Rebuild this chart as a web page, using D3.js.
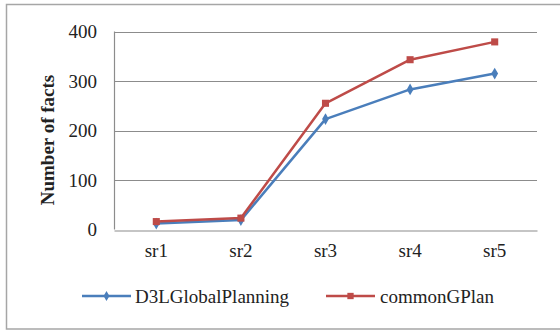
<!DOCTYPE html>
<html><head><meta charset="utf-8">
<script src="https://cdn.jsdelivr.net/npm/d3@7"></script>
<style>body{margin:0;background:#fff}svg{display:block}
svg text{font-family:"Liberation Serif","Times New Roman",Times,"DejaVu Serif",serif;}</style>
</head><body>
<svg id="c" width="560" height="330"></svg>
<script>
const categories = ["sr1","sr2","sr3","sr4","sr5"];
const seriesNames = ["D3LGlobalPlanning","commonGPlan"];
const d3lValues = [12, 19, 223, 283, 315];
const commonValues = [16, 23, 255, 343, 379];
const yTicks = [0,100,200,300,400];

const svg = d3.select("#c");
const m = {l:114, r:537, t:31.5, b:229.5};

svg.append("rect").attr("x",6.5).attr("y",4.5).attr("width",570).attr("height",324.5)
  .attr("fill","#fff").attr("stroke","#a6a6a6").attr("stroke-width",1.5);

const x = d3.scaleBand().domain(categories).range([m.l,m.r]);
const y = d3.scaleLinear().domain([0,400]).range([m.b,m.t]);

// gridlines
svg.append("g").selectAll("line").data(yTicks.slice(1)).join("line")
  .attr("x1",m.l).attr("x2",m.r).attr("y1",d=>Math.round(y(d))+0.5).attr("y2",d=>Math.round(y(d))+0.5)
  .attr("stroke","#8c8c8c").attr("stroke-width",1.2);

// y axis
const ya = svg.append("g").attr("transform",`translate(${m.l},0)`)
  .call(d3.axisLeft(y).tickValues(yTicks).tickSize(0).tickPadding(17));
ya.select(".domain").remove();
ya.selectAll("text").style("font-family",null).attr("font-family",null).attr("font-size",19).attr("fill","#222");
svg.append("line").attr("x1",m.l+0.5).attr("x2",m.l+0.5).attr("y1",m.t).attr("y2",m.b)
  .attr("stroke","#8c8c8c").attr("stroke-width",1.2);

// x axis
const xa = svg.append("g").attr("transform",`translate(0,${Math.round(m.b)+0.5})`)
  .call(d3.axisBottom(x).tickSize(0).tickPadding(13));
xa.select(".domain").attr("stroke","#8c8c8c").attr("stroke-width",1.2);
xa.selectAll("text").attr("font-size",19).attr("fill","#222");
svg.selectAll("g").attr("font-family",null);

// axis title
svg.append("text").attr("transform","translate(54,140) rotate(-90)")
  .attr("text-anchor","middle").attr("font-weight","bold")
  .attr("font-size",19).attr("fill","#222").text("Number of facts");

const colors = ["#4a7ebb","#be4b48"];
const data = [d3lValues, commonValues];
const line = d3.line().x((d,i)=>x(categories[i])+x.bandwidth()/2).y(d=>y(d));

data.forEach((vals,k)=>{
  svg.append("path").datum(vals).attr("d",line).attr("fill","none")
    .attr("stroke",colors[k]).attr("stroke-width",2.5).attr("stroke-linejoin","round");
  const sym = k===0 ? d3.symbol().type(d3.symbolDiamond).size(40) : d3.symbol().type(d3.symbolSquare).size(50);
  svg.append("g").selectAll("path").data(vals).join("path")
    .attr("transform",(d,i)=>`translate(${x(categories[i])+x.bandwidth()/2},${y(d)})`)
    .attr("d",sym).attr("fill",colors[k]);
});

// legend
const leg = [{x1:82,x2:131,tx:135},{x1:326,x2:375,tx:380}];
leg.forEach((L,k)=>{
  const ly = 296;
  svg.append("line").attr("x1",L.x1).attr("x2",L.x2).attr("y1",ly).attr("y2",ly)
    .attr("stroke",colors[k]).attr("stroke-width",2.5);
  const sym = k===0 ? d3.symbol().type(d3.symbolDiamond).size(30) : d3.symbol().type(d3.symbolSquare).size(40);
  svg.append("path").attr("transform",`translate(${(L.x1+L.x2)/2},${ly})`).attr("d",sym).attr("fill",colors[k]);
  svg.append("text").attr("x",L.tx).attr("y",ly).attr("dy","0.35em")
    .attr("font-size",19).attr("fill","#222").text(seriesNames[k]);
});
</script>
</body></html>
